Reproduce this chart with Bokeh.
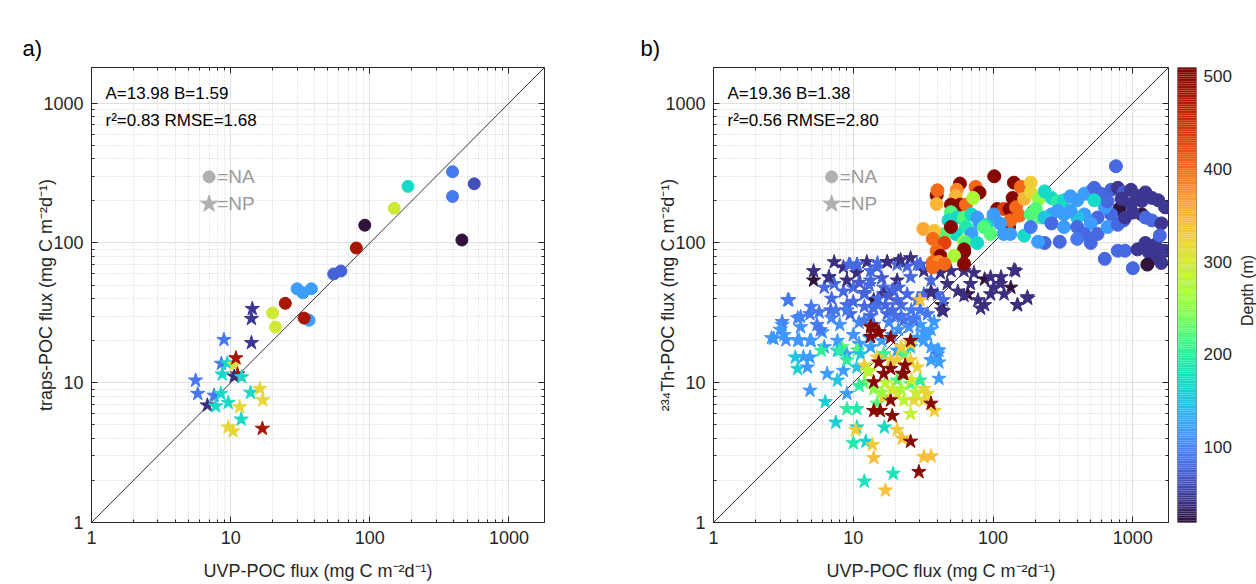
import math
from bokeh.plotting import figure
from bokeh.layouts import row
from bokeh.models import (Range1d, FixedTicker, CustomJSTickFormatter, LogAxis,
                          LinearAxis, Label, ColumnDataSource)
from bokeh.palettes import Turbo256
from bokeh.transform import linear_cmap
from bokeh.embed import file_html
from bokeh.resources import INLINE

FONT = "Liberation Sans"
INK = "#262626"

# ---------------- data: panel a (traps vs UVP) ----------------
a_na_uvp = [393, 563, 393, 188, 150, 92, 459, 80, 55, 62, 30, 33, 38, 24.7, 20, 21, 36.6, 33.7]
a_na_trap = [323, 265, 215, 254, 177, 134, 105, 92, 60, 63, 47, 44, 47, 37, 31.6, 25, 28, 29]
a_na_depth = [90, 60, 90, 170, 300, 20, 20, 480, 75, 75, 120, 120, 120, 480, 300, 300, 120, 480]

a_np_uvp = [14.3, 14.1, 14.1, 8.95, 8.57, 9.46, 10.6, 10.9, 11.2, 10.6, 12, 8.7, 5.6, 5.8,
            7.6, 8.5, 6.8, 7.8, 9.6, 13.9, 16.2, 17, 11.6, 11.9, 9.6, 10.4, 16.9]
a_np_trap = [33.8, 28.7, 19.3, 20.3, 13.7, 13.8, 13.5, 15, 11.5, 11.1, 11, 11.5, 10.4, 8.35,
             8.1, 8.35, 6.9, 6.8, 7.2, 8.5, 9.06, 7.5, 6.7, 5.47, 4.8, 4.5, 4.7]
a_np_depth = [45, 45, 45, 90, 90, 170, 310, 480, 480, 40, 170, 170, 90, 90,
              90, 170, 40, 170, 170, 170, 320, 320, 320, 170, 320, 320, 480]

# ---------------- data: panel b (234Th vs UVP) ----------------
b_na_uvp = [102, 58, 75, 77, 80, 55, 39.5, 40, 54, 50, 58, 64, 39.5, 72, 141, 158, 186, 138, 107, 119,
            131, 146, 154, 130, 133, 101, 167, 186, 213,
            50, 48, 55, 62, 70, 77, 80, 90, 101, 112, 119, 96, 86, 64, 54, 45, 42, 70, 62, 64, 77, 133,
            167, 186, 202, 220,
            31.7, 38, 37, 50, 45, 39.5, 42, 37, 41, 62, 62, 52.6, 37, 45, 62,
            757, 234, 262, 290, 322, 358, 400, 450, 500, 530, 590, 700, 780, 860, 970, 1080, 1230, 1370,
            1520, 1700, 800, 1160, 970, 1230, 1370, 1600, 860, 700, 630, 560, 500, 450, 400, 358, 322,
            290, 262, 234, 262, 322, 400, 450, 560, 234, 300, 400, 500, 630, 780, 880, 1000, 1080, 1230,
            1300, 1450, 1560, 1700, 1270, 1600, 1450, 1560, 1750, 1160, 1000, 660, 830, 186, 210, 660,
            780, 880, 530]
b_na_th = [300, 266, 252, 229, 229, 240, 219, 238, 216, 188, 188, 188, 190, 210, 270, 252, 270, 210, 175, 175,
           175, 180, 157, 130, 145, 152, 207, 230, 207,
           166, 145, 152, 152, 160, 152, 138, 135, 160, 138, 116, 116, 130, 130, 116, 116, 102, 116, 102, 100,
           100, 116, 113, 160, 175, 152,
           126, 122, 107, 130, 100, 88, 81, 73, 73, 86, 90, 81, 67, 71, 71,
           354, 234, 210, 198, 202, 216, 202, 225, 234, 248, 225, 240, 248, 230, 240, 216, 230, 210,
           202, 180, 175, 160, 190, 152, 145, 138, 145, 160, 180, 152, 138, 160, 152, 170, 160,
           170, 160, 152, 138, 130, 130, 116, 116, 100, 102, 107, 100, 77, 88, 88, 66, 90, 100,
           86, 78, 88, 88, 70, 72, 97, 113, 180, 200, 165, 198, 207, 130, 102, 130,
           135, 152, 202]
b_na_depth = [500, 500, 400, 420, 500, 380, 500, 400, 350, 500, 500, 400, 350, 270, 500, 400, 330, 500, 500, 430,
              500, 400, 400, 500, 400, 400, 350, 320, 250,
              220, 170, 170, 220, 170, 120, 120, 170, 120, 120, 120, 220, 220, 190, 170, 220, 220, 120, 260, 220,
              170, 120, 170, 220, 220, 220,
              360, 340, 400, 500, 430, 400, 500, 400, 380, 500, 500, 270, 400, 400, 500,
              80, 170, 170, 200, 170, 120, 120, 120, 120, 80, 80, 75, 45, 70, 45, 45, 45, 45,
              45, 45, 20, 20, 45, 80, 80, 45, 80, 80, 120, 80, 120, 120, 150, 120, 120,
              120, 120, 150, 80, 120, 80, 80, 80, 80, 80, 90, 80, 80, 80, 80, 80, 45, 45,
              45, 45, 45, 45, 20, 45, 45, 80, 45, 45, 45, 80, 45, 90, 120, 120,
              80, 45, 170]

np_upper_uvp = [7.3, 5.2, 5.2, 6.7, 8.5, 9.5, 10.6, 12.5, 14.8, 17.5, 21, 24.3, 28.7, 13.3, 16.5, 20.6, 25.7,
                32, 36, 42, 50, 62, 73, 87, 114, 145, 134, 177, 150, 120, 101, 87, 78, 96, 66, 56, 44, 43,
                40, 36, 28.7, 24.3, 20.6, 16.5, 14, 12, 10, 8.5, 7.3, 6.2, 9, 10.6, 20.6, 25.7, 30, 13.3, 44, 32]
np_upper_th = [73, 54, 63, 57, 67, 70, 61, 73, 67, 73, 74, 68, 70, 54, 48, 54, 57, 63, 54, 61, 63, 63, 61, 55,
               57, 63, 48, 40, 36, 43, 48, 36, 39, 43, 43, 45, 32.5, 36, 43, 45, 39, 43, 39, 43, 39, 43, 48,
               45, 51, 48, 54, 70, 70, 78, 70, 63, 39, 43]
np_upper_depth = [40, 20, 40, 80, 40, 80, 40, 40, 80, 40, 40, 80, 80, 80, 80, 40, 80, 40, 80, 40, 40, 40, 40,
                  20, 40, 40, 20, 40, 40, 40, 40, 40, 40, 40, 20, 40, 40, 20, 80, 40, 80, 80, 80, 40, 20, 80,
                  80, 80, 80, 80, 40, 80, 80, 40, 80, 80, 80, 80]

np_mid_uvp = [3.4, 4.9, 6.9, 9.5, 13.3, 17.5, 23, 30, 34, 4, 3.1, 4.2, 5.5, 12, 15, 19, 22, 26, 11, 14, 18, 21,
              25, 10, 13, 16, 19, 8, 6, 7, 5, 11, 22, 27, 9, 7, 5, 30]
np_mid_th = [39, 31, 33, 31, 30, 31, 28, 26, 31, 29, 26, 25, 26, 35, 36, 33, 36, 33, 27, 26, 27, 24, 25, 22,
             21, 20, 22, 26, 23, 29, 20, 19, 30, 29, 36, 40, 35, 33]
np_mid_depth = [90, 90, 80, 80, 80, 80, 80, 120, 90, 100, 110, 110, 90, 80, 80, 80, 80, 90, 100, 90, 100, 110,
                110, 110, 120, 120, 110, 110, 115, 100, 115, 120, 90, 90, 80, 80, 90, 90]

np_extra_uvp = [9.3, 10.7, 14.9, 17.5, 6.7, 3.46, 5.7, 7.5, 4.2, 3.1, 2.7, 3.3, 4.1, 5.8, 4.4, 4.0, 8.3, 10.7,
                13.3, 15.3, 13.3, 21.8, 30.3, 141, 96, 113, 176, 149, 81.5, 62, 43, 36, 47, 69, 37.8, 27, 32,
                40, 36, 11, 13, 16, 19, 12, 15, 18, 21, 10, 14, 17, 20, 9, 12]
np_extra_th = [70, 70, 72, 73, 57, 39, 32, 33, 29.6, 27.3, 20.7, 20.2, 20.2, 23.8, 15.3, 12.6, 18, 17.1,
               25.8, 23, 21.3, 75.5, 70, 64, 57, 51, 41, 36, 34, 42, 33, 44, 51, 51, 27.3, 28, 23,
               17.1, 14.5, 52, 50, 56, 46, 44, 40, 42, 48, 38, 34, 36, 30, 33, 28]
np_extra_depth = [80, 80, 80, 40, 40, 90, 90, 90, 100, 100, 110, 110, 115, 90, 120, 160, 220, 220,
                  500, 500, 500, 40, 80, 40, 40, 40, 40, 40, 40, 40, 40, 40, 40, 40, 115, 90, 115,
                  120, 120, 70, 80, 70, 80, 75, 80, 70, 75, 80, 85, 80, 85, 90, 90]

np_light_uvp = [2.6, 3.2, 3, 4, 4.9, 3.85, 4.9, 6.2, 7.7, 9, 11.3, 13.3, 16.5, 20.6, 25.7, 32, 36, 40, 41, 41,
                4.9, 4.7, 6.5, 7.7, 8.5, 10.6, 9, 6.3, 28.7, 34, 7.7, 36, 41, 36]
np_light_th = [20.9, 22, 24, 20, 20, 15.2, 15.2, 18, 17, 16, 16, 18, 16, 17, 18, 20, 18, 16, 14, 10.7,
               8.8, 12.9, 11.6, 10.4, 12.2, 12.9, 8.35, 7.3, 21, 22, 20, 14.5, 17, 24]
np_light_depth = [115, 115, 115, 115, 115, 150, 120, 120, 150, 120, 150, 120, 120, 120, 150, 120, 120, 90, 120,
                  120, 115, 115, 120, 150, 120, 150, 120, 160, 120, 120, 120, 120, 120, 120]

np_low_uvp = [7.5, 10.6, 9, 10.6, 10, 12.3, 10.4, 13.7, 14, 16.7, 12, 19.3, 17, 20.6, 22.4, 25.7, 29.5, 32, 36,
              14.8, 16.5, 20.6, 23, 25.7, 27.2, 32, 38, 34, 32, 14, 15.6, 19, 18.5, 36,
              5.9, 8, 9, 23, 16.5, 20.6, 25.7, 30, 12, 14, 11, 17, 13, 19, 16, 26, 28, 22,
              25.7, 22, 20.6, 18.5, 25.7, 28.7, 12, 12.6, 14.8, 30,
              13.3, 14.8, 18.5, 15.2, 18.5, 23, 23.5, 22.4, 14, 16.5, 25.7]
np_low_th = [5.2, 4.8, 6.5, 6.5, 3.7, 3.8, 4.6, 3.6, 2.9, 4.8, 1.97, 2.24, 1.70, 4.6, 4.0, 3.8, 2.3, 2.95, 2.98,
             7.1, 7.9, 8.35, 7.5, 6.0, 7.5, 9.06, 6.3, 8.35, 7.5, 6.3, 6.3, 5.8, 7.5, 7.1,
             17, 17, 14.5, 16, 16, 10.4, 9.8, 10.4, 10, 9, 9.5, 10, 12, 9, 8.5, 10.5, 8.5, 9,
             19, 18, 14.5, 14.5, 14.5, 12.9, 13.3, 12.2, 15.2, 39,
             25, 23, 21, 14, 12.6, 11.6, 13.3, 11.6, 10.1, 11.6, 20]
np_low_depth = [160, 160, 200, 190, 190, 160, 330, 330, 340, 170, 180, 180, 340, 330, 340, 500, 500, 340, 340,
                220, 330, 320, 280, 290, 320, 320, 330, 320, 320, 500, 500, 500, 500, 500,
                200, 200, 200, 220, 210, 220, 220, 200, 230, 250, 200, 280, 290, 300, 260, 300, 290, 270,
                330, 330, 330, 330, 330, 320, 330, 280, 330, 340,
                500, 500, 500, 500, 500, 500, 500, 500, 500, 500, 500]

b_np_uvp = np_upper_uvp + np_mid_uvp + np_extra_uvp + np_light_uvp + np_low_uvp
b_np_th = np_upper_th + np_mid_th + np_extra_th + np_light_th + np_low_th
b_np_depth = np_upper_depth + np_mid_depth + np_extra_depth + np_light_depth + np_low_depth

# fit annotations
a_stats = ["A=13.98 B=1.59", "r²=0.83 RMSE=1.68"]
b_stats = ["A=19.36 B=1.38", "r²=0.56 RMSE=2.80"]
legend_labels = ["=NA", "=NP"]
depth_title = "Depth (m)"

axis_lim = [1, 1800]
one_to_one = [1, 1800]
major_ticks = [1, 10, 100, 1000]
minor_ticks = [m * 10 ** e for e in range(0, 4) for m in range(2, 10)]
depth_lim = [19, 509]
depth_ticks = [100, 200, 300, 400, 500]

# annotation anchor positions (data coords)
stat_x, stat_y = 1.26, [1170, 750]
leg_mx, leg_tx, leg_y = 7.0, 8.0, [297, 190]
depth_title_x, depth_title_y = 0.55, 0.51

cmap_a = linear_cmap("depth", Turbo256, depth_lim[0], depth_lim[1])

fmt = CustomJSTickFormatter(code="return Math.round(tick).toString();")


def style_axis(ax, show_labels=True):
    ax.ticker = FixedTicker(ticks=major_ticks, minor_ticks=minor_ticks)
    ax.major_tick_in = 6
    ax.major_tick_out = 0
    ax.minor_tick_in = 3
    ax.minor_tick_out = 0
    ax.major_tick_line_color = INK
    ax.minor_tick_line_color = INK
    ax.axis_line_color = INK
    if show_labels:
        ax.formatter = fmt
        ax.major_label_text_font = FONT
        ax.major_label_text_font_size = "18px"
        ax.major_label_text_color = INK
        ax.major_label_standoff = 8
        ax.axis_label_text_font = FONT
        ax.axis_label_text_font_size = "18px"
        ax.axis_label_text_font_style = "normal"
        ax.axis_label_text_color = INK
    else:
        ax.major_label_text_font_size = "0px"
        ax.major_label_text_color = None
        ax.major_label_standoff = 0
        ax.axis_line_color = None


def make_panel(width, left, right, ylabel, letter, letter_offset, na, np_, stats, na_size):
    p = figure(width=width, height=584, x_axis_type="log", y_axis_type="log",
               x_range=Range1d(*axis_lim), y_range=Range1d(*axis_lim),
               min_border_left=left, min_border_right=right, min_border_top=67, min_border_bottom=62,
               output_backend="svg", toolbar_location=None)
    p.background_fill_color = "white"
    p.border_fill_color = "white"
    p.outline_line_color = INK
    p.outline_line_width = 1
    p.title.text = letter
    p.title.text_font = FONT
    p.title.text_font_size = "22px"
    p.title.text_font_style = "normal"
    p.title.text_color = "black"
    p.title.align = "left"
    p.title.offset = letter_offset
    p.title.standoff = 14

    style_axis(p.xaxis[0])
    style_axis(p.yaxis[0])
    p.xaxis.axis_label = "UVP-POC flux (mg C m⁻²d⁻¹)"
    p.xaxis.axis_label_standoff = 14
    p.yaxis.axis_label = ylabel
    p.yaxis.axis_label_standoff = -16

    top = LogAxis()
    style_axis(top, show_labels=False)
    rgt = LogAxis()
    style_axis(rgt, show_labels=False)
    p.add_layout(top, "above")
    p.add_layout(rgt, "right")

    for g in (p.xgrid[0], p.ygrid[0]):
        g.ticker = FixedTicker(ticks=major_ticks, minor_ticks=minor_ticks)
        g.grid_line_color = "#e0e0e0"
        g.grid_line_width = 1
        g.minor_grid_line_color = "#d0d0d0"
        g.minor_grid_line_dash = "1 2"
        g.minor_grid_line_width = 1

    p.line(one_to_one, one_to_one, line_color="black", line_width=0.8)

    src_np = ColumnDataSource(dict(x=np_[0], y=np_[1], depth=np_[2]))
    src_na = ColumnDataSource(dict(x=na[0], y=na[1], depth=na[2]))
    p.scatter("x", "y", source=src_np, marker="star", size=15, fill_color=cmap_a, line_color=cmap_a)
    p.scatter("x", "y", source=src_na, marker="circle", size=na_size, fill_color=cmap_a, line_color=cmap_a)

    for txt, yy in zip(stats, stat_y):
        p.add_layout(Label(x=stat_x, y=yy, text=txt, text_font=FONT, text_font_size="17px",
                           text_baseline="middle", text_color="black"))
    p.scatter([leg_mx], [leg_y[0]], marker="circle", size=12, fill_color="#b0b0b0", line_color="#b0b0b0")
    p.scatter([leg_mx], [leg_y[1]], marker="star", size=18, fill_color="#b0b0b0", line_color="#b0b0b0")
    for txt, yy in zip(legend_labels, leg_y):
        p.add_layout(Label(x=leg_tx, y=yy, text=txt, text_font=FONT, text_font_size="19px",
                           text_baseline="middle", text_color="#9a9a9a"))
    return p


pa = make_panel(630, 91, 86, "traps-POC flux (mg C m⁻²d⁻¹)", "a)", -69,
                (a_na_uvp, a_na_trap, a_na_depth), (a_np_uvp, a_np_trap, a_np_depth), a_stats, 12)
pb = make_panel(546, 83, 8, "²³⁴Th-POC flux (mg C m⁻²d⁻¹)", "b)", -73,
                (b_na_uvp, b_na_th, b_na_depth), (b_np_uvp, b_np_th, b_np_depth), b_stats, 13)

# colorbar panel
pc = figure(width=60, height=584, x_range=Range1d(0, 1), y_range=Range1d(*depth_lim),
            x_axis_location=None, y_axis_location=None,
            min_border_left=1, min_border_right=40, min_border_top=67, min_border_bottom=62,
            output_backend="svg", toolbar_location=None)
pc.grid.visible = False
pc.outline_line_color = "#8c8c8c"
n = len(Turbo256)
step = (depth_lim[1] - depth_lim[0]) / n
bottoms = [depth_lim[0] + i * step for i in range(n)]
tops = [b + step for b in bottoms]
pc.quad(left=0, right=1, bottom=bottoms, top=tops, fill_color=list(Turbo256), line_color=None)
cax = LinearAxis(ticker=FixedTicker(ticks=depth_ticks))
cax.axis_line_color = None
cax.major_tick_in = 0
cax.major_tick_out = 0
cax.minor_tick_line_color = None
cax.major_label_text_font = FONT
cax.major_label_text_font_size = "17px"
cax.major_label_text_color = INK
cax.major_label_standoff = 7
pc.add_layout(cax, "right")

# colorbar title panel
pd = figure(width=20, height=584, x_range=Range1d(0, 1), y_range=Range1d(0, 1),
            x_axis_location=None, y_axis_location=None, min_border=0,
            output_backend="svg", toolbar_location=None)
pd.grid.visible = False
pd.outline_line_color = None
pd.add_layout(Label(x=depth_title_x, y=depth_title_y, text=depth_title, angle=math.pi / 2,
                    text_font=FONT, text_font_size="16px", text_color=INK,
                    text_align="center", text_baseline="middle"))

layout = row(pa, pb, pc, pd, spacing=0)
open("out.html", "w").write(file_html(layout, INLINE))
